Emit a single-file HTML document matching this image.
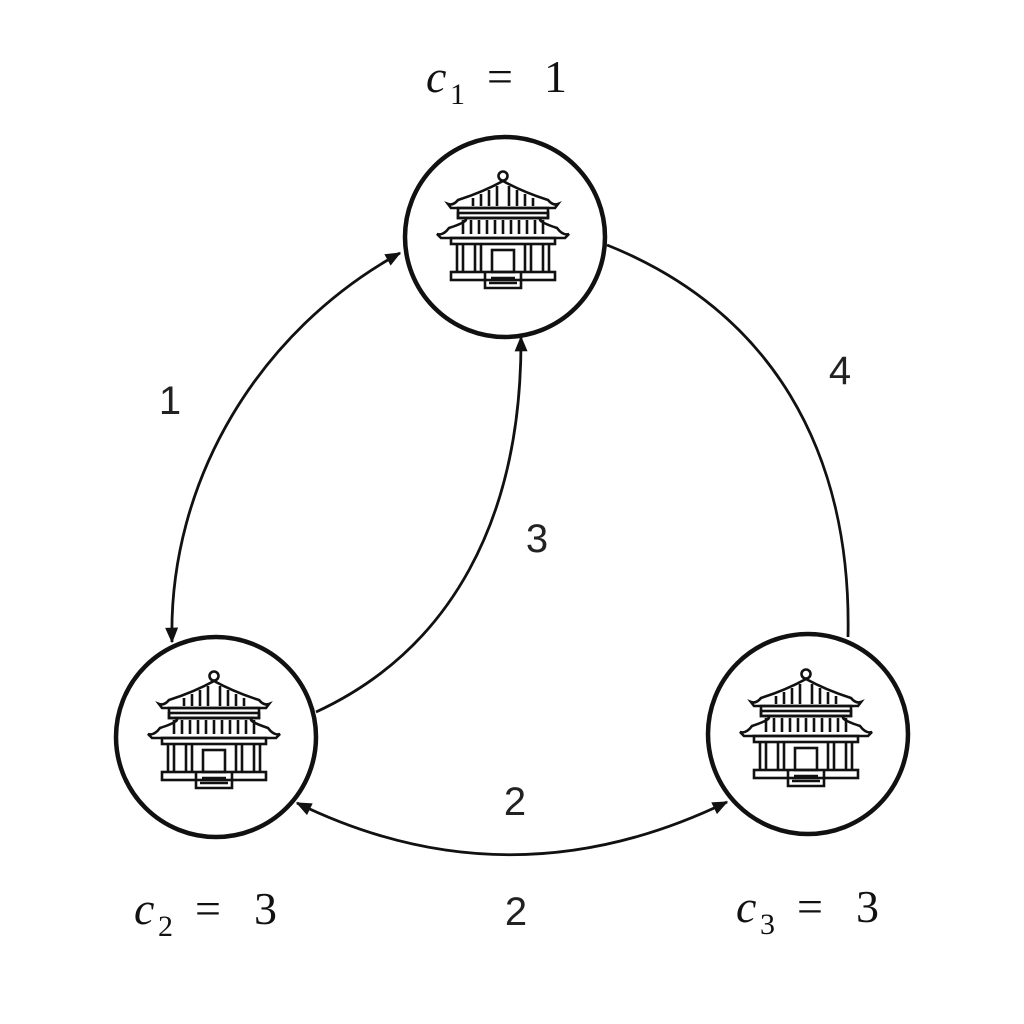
<!DOCTYPE html>
<html><head><meta charset="utf-8"><style>
html,body{margin:0;padding:0;background:#fff;}
svg{display:block;}
text{font-family:"Liberation Sans",sans-serif;fill:#222;}
.m{font-family:"Liberation Serif",serif;fill:#111;}
</style></head><body>
<svg width="1024" height="1024" viewBox="0 0 1024 1024" xmlns="http://www.w3.org/2000/svg">
<defs>
<marker id="a" viewBox="0 0 12 10" refX="11" refY="5" markerWidth="16" markerHeight="13" orient="auto-start-reverse" markerUnits="userSpaceOnUse">
<path d="M0,0 L12,5 L0,10 Z" fill="#111"/>
</marker>
<g id="pag" fill="none" stroke="#111" stroke-width="2.6">
<circle cx="0" cy="-54" r="4.5"/>
<path d="M-55,-26 Q-50,-24 -45,-30 Q-20,-38 0,-49 Q20,-38 45,-30 Q50,-24 55,-26 L52,-22 L-52,-22 Z"/>
<path d="M-30,-32 V-24 M-22,-36 V-24 M-14,-40 V-24 M-6,-44 V-24 M6,-44 V-24 M14,-40 V-24 M22,-36 V-24 M30,-32 V-24"/>
<rect x="-45" y="-22" width="90" height="10"/>
<rect x="-45" y="-17" width="90" height="5"/>
<path d="M-66,4 Q-60,6 -54,-2 Q-30,-10 -40,-12 L40,-12 Q30,-10 54,-2 Q60,6 66,4 L62,8 L-62,8 Z"/>
<path d="M-40,-10 V4 M-32,-10 V4 M-24,-10 V4 M-16,-10 V4 M-8,-10 V4 M0,-10 V4 M8,-10 V4 M16,-10 V4 M24,-10 V4 M32,-10 V4 M40,-10 V4"/>
<rect x="-52" y="8" width="104" height="6"/>
<path d="M-46,14 V42 M-40,14 V42 M-28,14 V42 M-22,14 V42 M22,14 V42 M28,14 V42 M40,14 V42 M46,14 V42"/>
<rect x="-11" y="20" width="22" height="22"/>
<rect x="-52" y="42" width="104" height="8"/>
<path d="M-18,42 V58 H18 V42 M-12,48 H12 M-14,53 H14"/>
</g>
</defs>

<g fill="none" stroke="#111" stroke-width="2.8">
<path d="M400,253 C260,330 168,480 172,642" marker-start="url(#a)" marker-end="url(#a)"/>
<path d="M316,712 C450,650 522,520 521,337" marker-end="url(#a)"/>
<path d="M607,245 C770,310 852,450 848,637"/>
<path d="M297,803 Q510,907 727,802" marker-start="url(#a)" marker-end="url(#a)"/>
</g>

<g fill="#fff" stroke="#111" stroke-width="4.5">
<circle cx="505" cy="237" r="100"/>
<circle cx="216" cy="737" r="100"/>
<circle cx="808" cy="734" r="100"/>
</g>

<use href="#pag" x="503" y="230"/>
<use href="#pag" x="214" y="730"/>
<use href="#pag" x="806" y="728"/>

<text x="170" y="414" font-size="40" text-anchor="middle">1</text>
<text x="840" y="384" font-size="40" text-anchor="middle">4</text>
<text x="537" y="552" font-size="40" text-anchor="middle">3</text>
<text x="515" y="815" font-size="40" text-anchor="middle">2</text>
<text x="516" y="925" font-size="40" text-anchor="middle">2</text>

<g class="m" font-size="46">
<text class="m" x="426" y="92" font-style="italic">c</text><text class="m" x="450" y="104" font-size="30">1</text><text class="m" x="487" y="92">=</text><text class="m" x="544" y="92">1</text>
<text class="m" x="134" y="924" font-style="italic">c</text><text class="m" x="158" y="936" font-size="30">2</text><text class="m" x="195" y="924">=</text><text class="m" x="254" y="924">3</text>
<text class="m" x="736" y="922" font-style="italic">c</text><text class="m" x="760" y="934" font-size="30">3</text><text class="m" x="797" y="922">=</text><text class="m" x="856" y="922">3</text>
</g>
</svg>
</body></html>
